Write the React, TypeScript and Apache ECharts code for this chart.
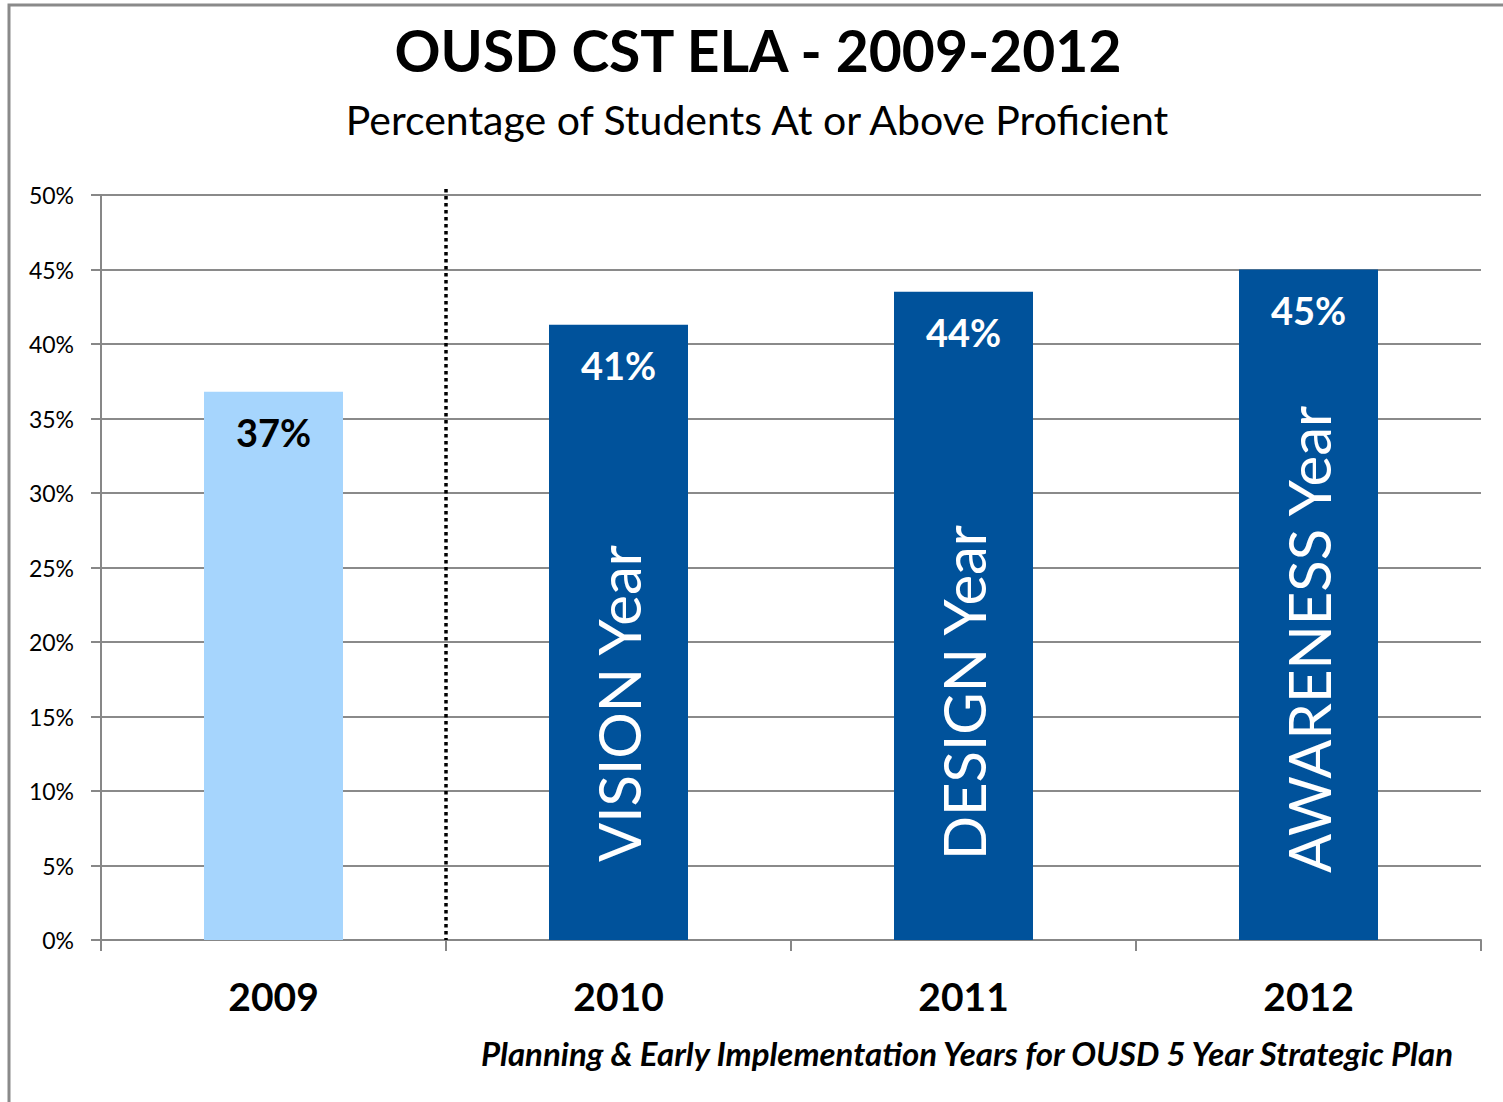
import React, { useEffect, useRef } from "react";
import * as echarts from "echarts";

const categories = ["2009", "2010", "2011", "2012"];
const values = [36.8, 41.3, 43.5, 45.0];
const barColors = ["#A6D5FD", "#00529B", "#00529B", "#00529B"];
const labelColors = ["#000000", "#FFFFFF", "#FFFFFF", "#FFFFFF"];
const yearNames = ["", "VISION Year", "DESIGN Year", "AWARENESS Year"];
const yearNameOffsets = [0, 78, 80, 67];
const yTicks = { min: 0, max: 50, interval: 5 };
const titleText = "OUSD CST ELA - 2009-2012";
const subtitleText = "Percentage of Students At or Above Proficient";
const footnoteText = "Planning & Early Implementation Years for OUSD 5 Year Strategic Plan";

const FONT = "Lato, 'Open Sans', sans-serif";

export default function App() {
  const ref = useRef<HTMLDivElement>(null);
  useEffect(() => {
    document.body.style.margin = "0";
    const chart = echarts.init(ref.current!, null, { renderer: "svg" });
    const option: any = {
      animation: false,
      backgroundColor: "#ffffff",
      textStyle: { fontFamily: FONT },
      grid: { left: 101, right: 22, top: 195, bottom: 162 },
      xAxis: {
        type: "category",
        data: categories,
        axisLine: { lineStyle: { color: "#878787", width: 2 } },
        axisTick: { show: true, length: 11, lineStyle: { color: "#878787", width: 2 } },
        axisLabel: { color: "#000", fontSize: 39, fontWeight: "bold", fontFamily: FONT, margin: 36 },
      },
      yAxis: {
        type: "value",
        min: yTicks.min,
        max: yTicks.max,
        interval: yTicks.interval,
        axisLine: { show: true, lineStyle: { color: "#878787", width: 2 } },
        axisTick: { show: true, length: 10, lineStyle: { color: "#878787", width: 2 } },
        axisLabel: { color: "#000", fontSize: 23, fontFamily: FONT, margin: 27, formatter: "{value}%" },
        splitLine: { lineStyle: { color: "#8a8a8a", width: 2 } },
      },
      series: [
        {
          type: "bar",
          barWidth: 139,
          data: values.map((v, i) => ({
            value: v,
            itemStyle: { color: barColors[i] },
            label: { color: labelColors[i] },
          })),
          label: {
            show: true,
            position: "insideTop",
            distance: 21,
            fontSize: 38,
            fontWeight: "bold",
            fontFamily: FONT,
            formatter: (p: any) => Math.round(p.value) + "%",
          },
          z: 2,
        },
        {
          type: "bar",
          barWidth: 139,
          barGap: "-100%",
          data: values.map((v, i) => ({
            value: v,
            itemStyle: { color: "rgba(0,0,0,0)" },
            label: { show: yearNames[i] !== "", distance: yearNameOffsets[i] },
          })),
          label: {
            position: "insideBottom",
            rotate: 90,
            align: "left",
            verticalAlign: "middle",
            color: "#FFFFFF",
            fontSize: 58,
            fontFamily: FONT,
            formatter: (p: any) => yearNames[p.dataIndex],
          },
          z: 3,
        },
      ],
      graphic: [
        {
          type: "rect",
          shape: { x: 9, y: 5, width: 1600, height: 1200 },
          style: { fill: "none", stroke: "#8a8a8a", lineWidth: 3 },
          silent: true,
        },
        {
          type: "text",
          x: 758,
          y: 50,
          style: {
            text: titleText,
            fontSize: 57,
            fontWeight: "bold",
            fontFamily: FONT,
            fill: "#000",
            align: "center",
            verticalAlign: "middle",
          },
        },
        {
          type: "text",
          x: 757,
          y: 119,
          style: {
            text: subtitleText,
            fontSize: 41,
            fontFamily: FONT,
            fill: "#000",
            align: "center",
            verticalAlign: "middle",
          },
        },
        {
          type: "text",
          x: 1453,
          y: 1053,
          style: {
            text: footnoteText,
            fontSize: 33,
            fontWeight: "bold",
            fontStyle: "italic",
            fontFamily: FONT,
            fill: "#000",
            align: "right",
            verticalAlign: "middle",
          },
        },
      ],
    };
    chart.setOption(option);
    const x0 = chart.convertToPixel({ xAxisIndex: 0 }, 0) as number;
    const x1 = chart.convertToPixel({ xAxisIndex: 0 }, 1) as number;
    const yTop = chart.convertToPixel({ yAxisIndex: 0 }, yTicks.max) as number;
    const yBot = chart.convertToPixel({ yAxisIndex: 0 }, yTicks.min) as number;
    const xd = Math.round((x0 + x1) / 2);
    chart.setOption({
      graphic: [
        ...option.graphic,
        {
          type: "line",
          shape: { x1: xd, y1: yTop - 6, x2: xd, y2: yBot },
          style: { stroke: "#000", lineWidth: 3.5, lineDash: [3.5, 3.5] },
          z: 10,
        },
      ],
    });
    return () => chart.dispose();
  }, []);
  return <div ref={ref} style={{ width: 1503, height: 1102 }} />;
}
